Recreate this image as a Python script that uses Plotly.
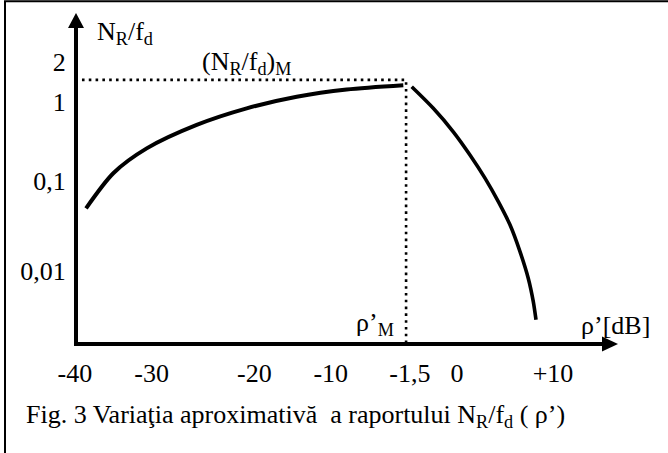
import plotly.graph_objects as go

# ---- data (schematic units: x 0..98, y 0..97; the axes meet at 0,0) ----
x_tick_pos = [-0.2, 13.96, 32.9, 47.0, 61.6, 70.3, 88.0]
x_tick_text = ["-40", "-30", "-20", "-10", "-1,5", "0", "+10"]

y_tick_pos = [85.3, 73.0, 49.4, 22.2]
y_tick_text = ["2", "1", "0,1", "0,01"]

left_x = [1.85, 6.88, 13.04, 22.27, 31.49, 40.72, 49.94, 60.39]
left_y = [41.0, 51.6, 59.1, 66.2, 71.2, 74.7, 76.9, 78.2]

right_x = [61.94, 65.92, 69.61, 72.69, 75.46, 77.92, 80.07, 81.92, 83.45, 84.37, 84.87]
right_y = [77.7, 71.2, 64.1, 57.1, 50.1, 43.0, 36.0, 27.9, 19.8, 12.8, 7.3]

rho_M = 60.9        # position of rho'_M on the x axis
peak_level = 79.8   # level of (N_R/f_d)_M
dot_start = 1.1

FONT = "Liberation Serif, Times New Roman, serif"
FS = 26

W, H = 668, 453
ML, MR, MT, MB = 74, 60, 24, 107
PW, PH = W - ML - MR, H - MT - MB
SX, SY = 5.42, 3.31            # pixels per schematic unit
X0 = -2 / SX                   # data 0 sits 2px inside the plot area
Y0 = -2 / SY
XR = [X0, X0 + PW / SX]
YR = [Y0, Y0 + PH / SY]

fig = go.Figure()

fig.add_trace(go.Scatter(x=left_x, y=left_y, mode="lines",
                         line=dict(color="black", width=4, shape="spline", smoothing=0.8),
                         cliponaxis=False, hoverinfo="skip"))
fig.add_trace(go.Scatter(x=right_x, y=right_y, mode="lines",
                         line=dict(color="black", width=3.6, shape="spline", smoothing=0.8),
                         cliponaxis=False, hoverinfo="skip"))
# dotted guide lines
fig.add_trace(go.Scatter(x=[dot_start, rho_M, rho_M], y=[peak_level, peak_level, 0],
                         mode="lines",
                         line=dict(color="black", width=2.6, dash="2.6px,4.2px"),
                         cliponaxis=False, hoverinfo="skip"))

shapes = []
def px2fx(px):
    return (px - ML) / PW
def py2fy(py):
    return (MT + PH - py) / PH
# outer frame (only top and left edges fall inside the picture)
shapes.append(dict(type="rect", xref="paper", yref="paper",
                   x0=px2fx(5), x1=px2fx(700), y0=py2fy(480), y1=py2fy(1.2),
                   line=dict(color="black", width=2)))
# arrow heads (pixel paths)
shapes.append(dict(type="path", xref="paper", yref="paper",
                   xsizemode="pixel", ysizemode="pixel", xanchor=1, yanchor=py2fy(344),
                   path="M -6,7.5 L 10,0 L -6,-7.5 Z",
                   fillcolor="black", line=dict(width=0)))
shapes.append(dict(type="path", xref="paper", yref="paper",
                   xsizemode="pixel", ysizemode="pixel", xanchor=px2fx(76), yanchor=1,
                   path="M -8,-4 L 0,11 L 8,-4 Z",
                   fillcolor="black", line=dict(width=0)))

ann = []
def text(x, y, t, xa="left", ya="middle", ref="data"):
    d = dict(x=x, y=y, text=t, showarrow=False, xanchor=xa, yanchor=ya,
             font=dict(family=FONT, size=FS, color="black"))
    if ref == "data":
        d.update(xref="x", yref="y")
    else:
        d.update(xref="paper", yref="paper")
    ann.append(d)

text(3.5, 94.0, "N<sub>R</sub>/f<sub>d</sub>")
text(22.9, 85.0, "(N<sub>R</sub>/f<sub>d</sub>)<sub>M</sub>")
text(59.0, 5.9, "ρ’<sub>M</sub>", xa="right")
text(92.8, 5.7, "ρ’[dB]")
text(px2fx(24), py2fy(416), "Fig. 3 Variaţia aproximativă\u00a0 a raportului N<sub>R</sub>/f<sub>d</sub> ( ρ’)", ref="paper")

axis_common = dict(showgrid=False, showline=False, zeroline=True,
                   zerolinecolor="black", zerolinewidth=4,
                   tickmode="array", ticks="outside", tickcolor="rgba(0,0,0,0)",
                   tickfont=dict(family=FONT, size=FS, color="black"))

fig.update_layout(
    width=W, height=H,
    margin=dict(l=ML, r=MR, t=MT, b=MB),
    paper_bgcolor="white", plot_bgcolor="white",
    showlegend=False,
    shapes=shapes, annotations=ann,
    xaxis=dict(range=XR, tickvals=x_tick_pos, ticktext=x_tick_text, ticklen=4, **axis_common),
    yaxis=dict(range=YR, tickvals=y_tick_pos, ticktext=y_tick_text, ticklen=2, **axis_common),
)

fig.write_html("out.html", config={"displayModeBar": False},
               post_script="document.body.style.margin='0px';document.body.style.overflow='hidden';")
